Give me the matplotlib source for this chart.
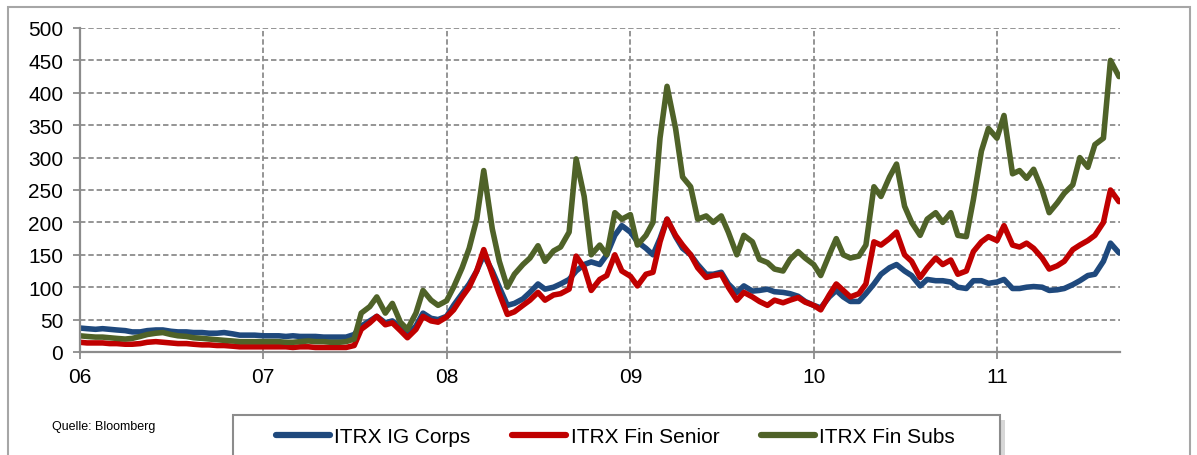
import matplotlib
matplotlib.use("Agg")
import matplotlib.pyplot as plt
import matplotlib.dates as mdates
from matplotlib.patches import Rectangle
from matplotlib.lines import Line2D
import pandas as pd

plt.rcParams['font.family'] = ['Liberation Sans', 'DejaVu Sans']

# semi-monthly observations, Jan 2006 - Sep 2011
dates = pd.date_range('2006-01-01', '2011-09-01', freq='SMS')

ig_corps = [37, 36, 35, 36, 35, 34, 33, 31, 31, 33, 34, 34, 32, 31, 31, 30, 30, 29, 29, 30, 28, 26, 26, 26,
            25, 25, 25, 24, 25, 24, 24, 24, 23, 23, 23, 23,
            27, 40, 48, 55, 45, 48, 38, 28, 40, 60, 52, 50,
            55, 72, 90, 105, 125, 150, 125, 100, 72, 75, 82, 92,
            105, 97, 100, 105, 112, 125, 135, 139, 135, 150, 180, 195,
            185, 170, 160, 150, 175, 205, 178, 160, 150, 135, 120, 120,
            123, 105, 92, 102, 94, 95, 97, 93, 92, 90, 86, 78,
            72, 68, 85, 95, 85, 78, 78, 90, 105, 120, 130, 135,
            125, 118, 102, 112, 110, 110, 108, 100, 98, 110, 110, 106,
            108, 112, 98, 98, 100, 101, 100, 95, 96, 98, 104, 110,
            118, 120, 140, 168, 153]

fin_senior = [15, 14, 14, 14, 13, 13, 12, 12, 13, 15, 16, 15, 14, 13, 13, 12, 11, 11, 10, 10, 9, 8, 8, 8,
              8, 8, 8, 8, 7, 8, 8, 7, 7, 7, 7, 7,
              10, 35, 45, 55, 42, 45, 33, 22, 35, 55, 48, 46,
              54, 65, 85, 100, 125, 158, 120, 90, 58, 62, 72, 80,
              92, 80, 88, 90, 97, 148, 130, 95, 112, 118, 150, 125,
              117, 102, 120, 123, 170, 205, 180, 165, 150, 130, 115, 118,
              120, 100, 80, 92, 85, 78, 72, 80, 76, 80, 84, 77,
              72, 65, 88, 105, 95, 85, 90, 105, 170, 165, 175, 185,
              150, 140, 115, 130, 145, 135, 142, 120, 125, 155, 170, 178,
              172, 195, 165, 162, 168, 160, 145, 128, 133, 140, 158, 165,
              172, 180, 200, 250, 232]

fin_subs = [25, 24, 23, 23, 22, 21, 20, 21, 24, 27, 29, 30, 27, 25, 24, 22, 21, 20, 19, 18, 17, 16, 16, 16,
            16, 16, 16, 15, 15, 16, 17, 16, 16, 15, 15, 16,
            20, 60, 70, 85, 60, 75, 46, 35, 60, 95, 80, 72,
            79, 100, 130, 160, 205, 280, 190, 140, 100, 120, 135, 145,
            164, 140, 156, 162, 185, 298, 240, 150, 165, 150, 215, 205,
            212, 165, 180, 200, 330, 410, 345, 270, 255, 205, 210, 200,
            210, 185, 150, 180, 170, 143, 138, 128, 125, 143, 155, 145,
            135, 118, 150, 175, 150, 145, 148, 165, 255, 240, 270, 290,
            225, 200, 180, 205, 215, 200, 215, 180, 178, 235, 310, 345,
            330, 365, 275, 280, 268, 282, 250, 215, 230, 245, 258, 300,
            285, 320, 330, 450, 425]

labels = ['ITRX IG Corps', 'ITRX Fin Senior', 'ITRX Fin Subs']
colors = ['#1F497D', '#C00000', '#4F6228']

W, H = 1197, 456
fig = plt.figure(figsize=(W / 100, H / 100), dpi=100)
ax = fig.add_axes([80 / W, 1 - 353 / H, (1120 - 80) / W, (353 - 29) / H])

for vals, c in zip([ig_corps, fin_senior, fin_subs], colors):
    ax.plot(dates, vals, color=c, lw=4.0, solid_joinstyle='round', solid_capstyle='round')

ax.set_ylim(0, 500)
ax.set_yticks(range(0, 501, 50))
ax.set_xlim(pd.Timestamp('2006-01-01'), pd.Timestamp('2011-09-03'))
ax.xaxis.set_major_locator(mdates.YearLocator())
ax.xaxis.set_major_formatter(mdates.DateFormatter('%y'))

grid_c = '#8C8C8C'
ax.grid(True, color=grid_c, lw=1.3, linestyle=(0, (3, 1.6)))
ax.set_axisbelow(True)
for s in ['top', 'right']:
    ax.spines[s].set_visible(False)
for s in ['left', 'bottom']:
    ax.spines[s].set_color(grid_c)
    ax.spines[s].set_linewidth(1.6)
ax.tick_params(axis='both', length=5, width=1.3, color=grid_c, labelsize=15, labelcolor='black')
ax.tick_params(axis='y', pad=7)
ax.tick_params(axis='x', pad=6)

# outer frame
fig.patches.append(Rectangle((8 / W, -0.1), (1190 - 8) / W, 1.1 - 8 / H, transform=fig.transFigure,
                             fill=False, edgecolor='#A6A6A6', lw=1.5))

fig.text(52 / W, 1 - 427 / H, 'Quelle: Bloomberg', fontsize=9, va='center', ha='left')

# legend box with shadow
fig.patches.append(Rectangle((238 / W, -0.1), (1000 - 233) / W, 0.1 + 1 - 421 / H,
                             transform=fig.transFigure, facecolor='#BDBDBD', edgecolor='none', alpha=0.6))
fig.patches.append(Rectangle((233 / W, -0.1), (1000 - 233) / W, 0.1 + 1 - 416 / H,
                             transform=fig.transFigure, facecolor='white', edgecolor='#8C8C8C', lw=1.5))

handles = [Line2D([], [], color=c, lw=4.5, solid_capstyle='round') for c in colors]
fig.legend(handles, labels, loc='center left', bbox_to_anchor=(276 / W, 1 - 438 / H), ncol=3,
           frameon=False, fontsize=15, handlelength=2.6, handletextpad=0.2, columnspacing=2.0,
           borderaxespad=0, borderpad=0)

fig.savefig('out.png', dpi=100)
